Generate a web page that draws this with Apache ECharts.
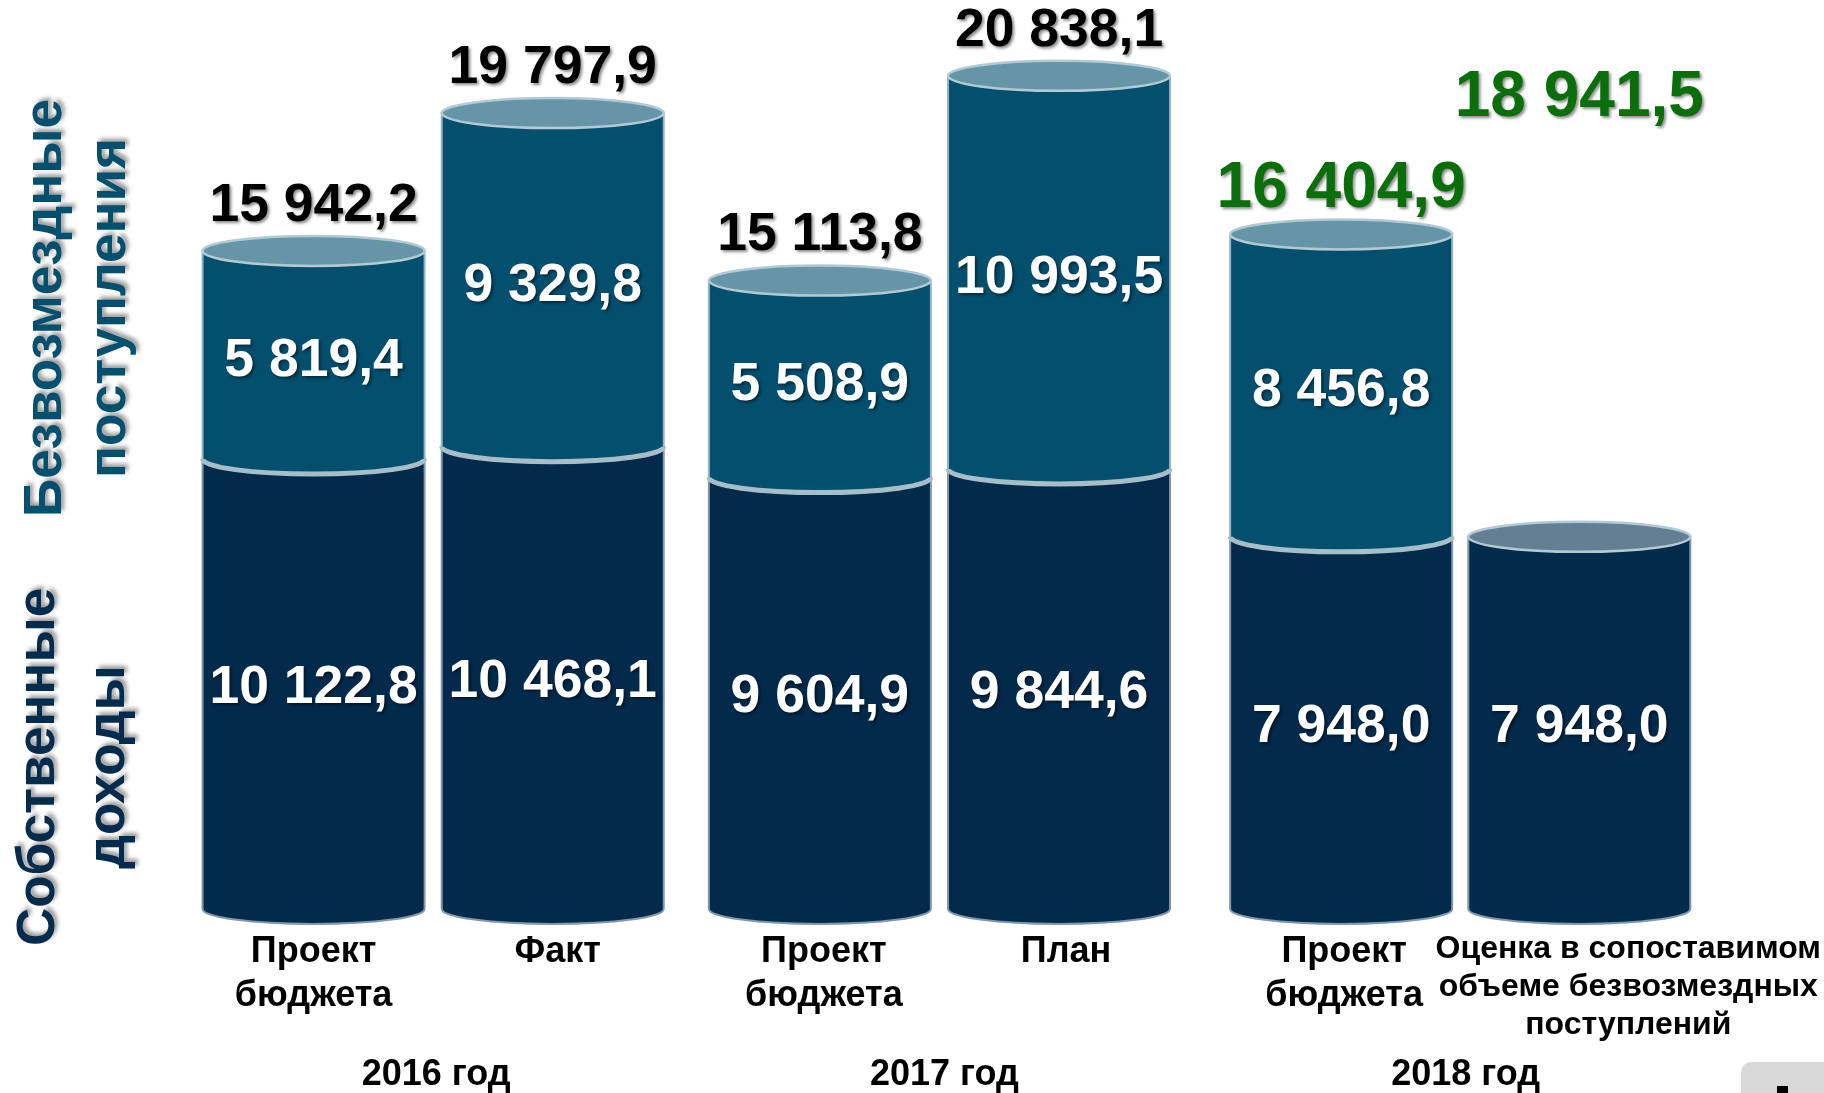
<!DOCTYPE html>
<html>
<head>
<meta charset="utf-8">
<script src="https://cdn.jsdelivr.net/npm/echarts@6/dist/echarts.min.js"></script>
<style>
html,body{margin:0;padding:0;background:#fff;}
#chart{width:1824px;height:1093px;}
</style>
</head>
<body>
<div id="chart"></div>
<script>
// ---------------- data ----------------
const categories = ['Проект\nбюджета', 'Факт', 'Проект\nбюджета', 'План', 'Проект\nбюджета', 'Оценка в сопоставимом\nобъеме безвозмездных\nпоступлений'];
const years = ['2016 год', '2017 год', '2018 год'];
const ownRevenue = [10122.8, 10468.1, 9604.9, 9844.6, 7948.0, 7948.0];      // Собственные доходы
const grants = [5819.4, 9329.8, 5508.9, 10993.5, 8456.8, null];            // Безвозмездные поступления
const totals = [15942.2, 19797.9, 15113.8, 20838.1, 16404.9, 18941.5];
const seriesNames = ['Собственные доходы', 'Безвозмездные поступления'];

// ---------------- layout / style ----------------
const FONT = "'Liberation Sans', Arial, sans-serif";
const AXIS_MIN = -2460, AXIS_MAX = 22000;
const PX_PER_UNIT = 0.03576;
const BASE_Y = 909;
const BAR_NUDGE = [7, -9, 3, -13, 14, -3];
const LABEL_SHIFT = [7, -4, 7, -6, 17, 46];
const YEAR_SHIFT = [2, 0, 11];
const HALF_W = 111, RY = 15;
const NAVY = '#032a4b', TEAL = '#044f6d', CAP = '#6795a8', CAP_OWN = '#647f93';
const TOTAL_COLORS = ['#000', '#000', '#000', '#000', '#0a6e0a', '#0a6e0a'];
const TOTAL_SIZES = [53.5, 53.5, 53.5, 53.5, 64, 64];

function fmt(v) {
  const s = v.toFixed(1).split('.');
  return s[0].replace(/\B(?=(\d{3})+(?!\d))/g, ' ') + ',' + s[1];
}
function shiftPad(d, top) { return d >= 0 ? [top || 0, 0, 0, 2 * d] : [top || 0, -2 * d, 0, 0]; }

const data = categories.map((c, i) => [i, ownRevenue[i], grants[i] == null ? 0 : grants[i], totals[i]]);

const catRich = {};
categories.forEach((c, i) => {
  const last = i === categories.length - 1;
  catRich['c' + i] = { fontSize: last ? 32 : 36, fontWeight: 'bold', fontFamily: FONT, lineHeight: last ? 38 : 44, color: '#000', padding: shiftPad(LABEL_SHIFT[i]) };
});
const yearRich = {};
years.forEach((y, i) => {
  yearRich['y' + i] = { fontSize: 36, fontWeight: 'bold', fontFamily: FONT, lineHeight: 36, color: '#000', padding: shiftPad(YEAR_SHIFT[i]) };
});

function bodyPath(L, R, yTop, yBot) {
  return `M${L} ${yTop} L${L} ${yBot} A${HALF_W} ${RY} 0 0 0 ${R} ${yBot} L${R} ${yTop} Z`;
}
function ellipsePath(L, R, y) {
  return `M${L} ${y} A${HALF_W} ${RY} 0 0 0 ${R} ${y} A${HALF_W} ${RY} 0 0 0 ${L} ${y} Z`;
}
const txtShadow = { textShadowColor: 'rgba(0,0,0,0.45)', textShadowBlur: 3, textShadowOffsetX: 2, textShadowOffsetY: 2 };

function renderItem(params, api) {
  const i = api.value(0);
  const own = api.value(1), grant = api.value(2), total = api.value(3);
  const cx = api.coord([i, 0])[0] + BAR_NUDGE[i];
  const L = cx - HALF_W, R = cx + HALF_W;
  const yBase = api.coord([i, AXIS_MIN])[1];
  const yOwn = api.coord([i, own])[1];
  const yTop = grant > 0 ? api.coord([i, own + grant])[1] : yOwn;
  const yTotal = api.coord([i, total])[1];
  const children = [];
  children.push({ type: 'path', shape: { pathData: bodyPath(L, R, yOwn, yBase) },
    style: { fill: NAVY, stroke: '#8197aa', lineWidth: 2 } });
  if (grant > 0) {
    children.push({ type: 'path', shape: { pathData: bodyPath(L, R, yTop, yOwn) },
      style: { fill: TEAL, stroke: '#97b3c2', lineWidth: 2 } });
    children.push({ type: 'path', shape: { pathData: `M${L} ${yOwn} A${HALF_W} ${RY} 0 0 0 ${R} ${yOwn}` },
      style: { fill: null, stroke: '#a6bdca', lineWidth: 5 } });
    children.push({ type: 'text', x: cx, y: (yTop + yOwn) / 2 + 6,
      style: Object.assign({ text: fmt(grant), fill: '#fff', fontSize: 53.5, fontWeight: 'bold', fontFamily: FONT, align: 'center', verticalAlign: 'middle' }, txtShadow) });
  }
  children.push({ type: 'path', shape: { pathData: ellipsePath(L, R, yTop) },
    style: { fill: grant > 0 ? CAP : CAP_OWN, stroke: '#b2cad5', lineWidth: 2.5 } });
  children.push({ type: 'text', x: cx, y: (yOwn + yBase) / 2 + 4,
    style: Object.assign({ text: fmt(own), fill: '#fff', fontSize: 53.5, fontWeight: 'bold', fontFamily: FONT, align: 'center', verticalAlign: 'middle' }, txtShadow) });
  children.push({ type: 'text', x: cx, y: yTotal - 45,
    style: Object.assign({ text: fmt(total), fill: TOTAL_COLORS[i], fontSize: TOTAL_SIZES[i], fontWeight: 'bold', fontFamily: FONT, align: 'center', verticalAlign: 'middle' }, txtShadow) });
  return { type: 'group', children };
}

const gridHeight = (AXIS_MAX - AXIS_MIN) * PX_PER_UNIT;
const chart = echarts.init(document.getElementById('chart'));
chart.setOption({
  animation: false,
  backgroundColor: '#fff',
  grid: { left: 179, width: 1531, top: BASE_Y - gridHeight, height: gridHeight },
  xAxis: [
    { type: 'category', data: categories, position: 'bottom',
      axisLine: { show: false }, axisTick: { show: false }, splitLine: { show: false },
      axisLabel: { interval: 0, margin: 21, verticalAlign: 'top',
        formatter: (v, idx) => v.split('\n').map(l => `{c${idx}|${l}}`).join('\n'), rich: catRich } },
    { type: 'category', data: years, position: 'bottom', offset: 140,
      axisLine: { show: false }, axisTick: { show: false }, splitLine: { show: false },
      axisLabel: { interval: 0, margin: 8, verticalAlign: 'top',
        formatter: (v, idx) => `{y${idx}|${v}}`, rich: yearRich } }
  ],
  yAxis: { type: 'value', min: AXIS_MIN, max: AXIS_MAX, show: false },
  series: [{
    type: 'custom', name: seriesNames.join(' / '), xAxisIndex: 0, yAxisIndex: 0,
    renderItem, data, clip: false
  }],
  graphic: [
    { type: 'text', x: 78, y: 308, rotation: Math.PI / 2,
      style: Object.assign({ text: seriesNames[1].replace(' ', '\n'), fill: '#03506e', fontSize: 53, fontWeight: 'bold', fontFamily: FONT, align: 'center', verticalAlign: 'middle', lineHeight: 64 }, { textShadowColor: 'rgba(0,0,0,0.4)', textShadowBlur: 4, textShadowOffsetX: 3, textShadowOffsetY: -3 }) },
    { type: 'text', x: 74, y: 767, rotation: Math.PI / 2,
      style: Object.assign({ text: seriesNames[0].replace(' ', '\n'), fill: '#022b4c', fontSize: 53, fontWeight: 'bold', fontFamily: FONT, align: 'center', verticalAlign: 'middle', lineHeight: 70 }, { textShadowColor: 'rgba(0,0,0,0.4)', textShadowBlur: 4, textShadowOffsetX: 3, textShadowOffsetY: -3 }) },
    { type: 'rect', shape: { x: 1741, y: 1062, width: 110, height: 60, r: 10 }, style: { fill: '#d9d9d9' } },
    { type: 'rect', shape: { x: 1777, y: 1086, width: 11, height: 7 }, style: { fill: '#000' } }
  ]
});
</script>
</body>
</html>
